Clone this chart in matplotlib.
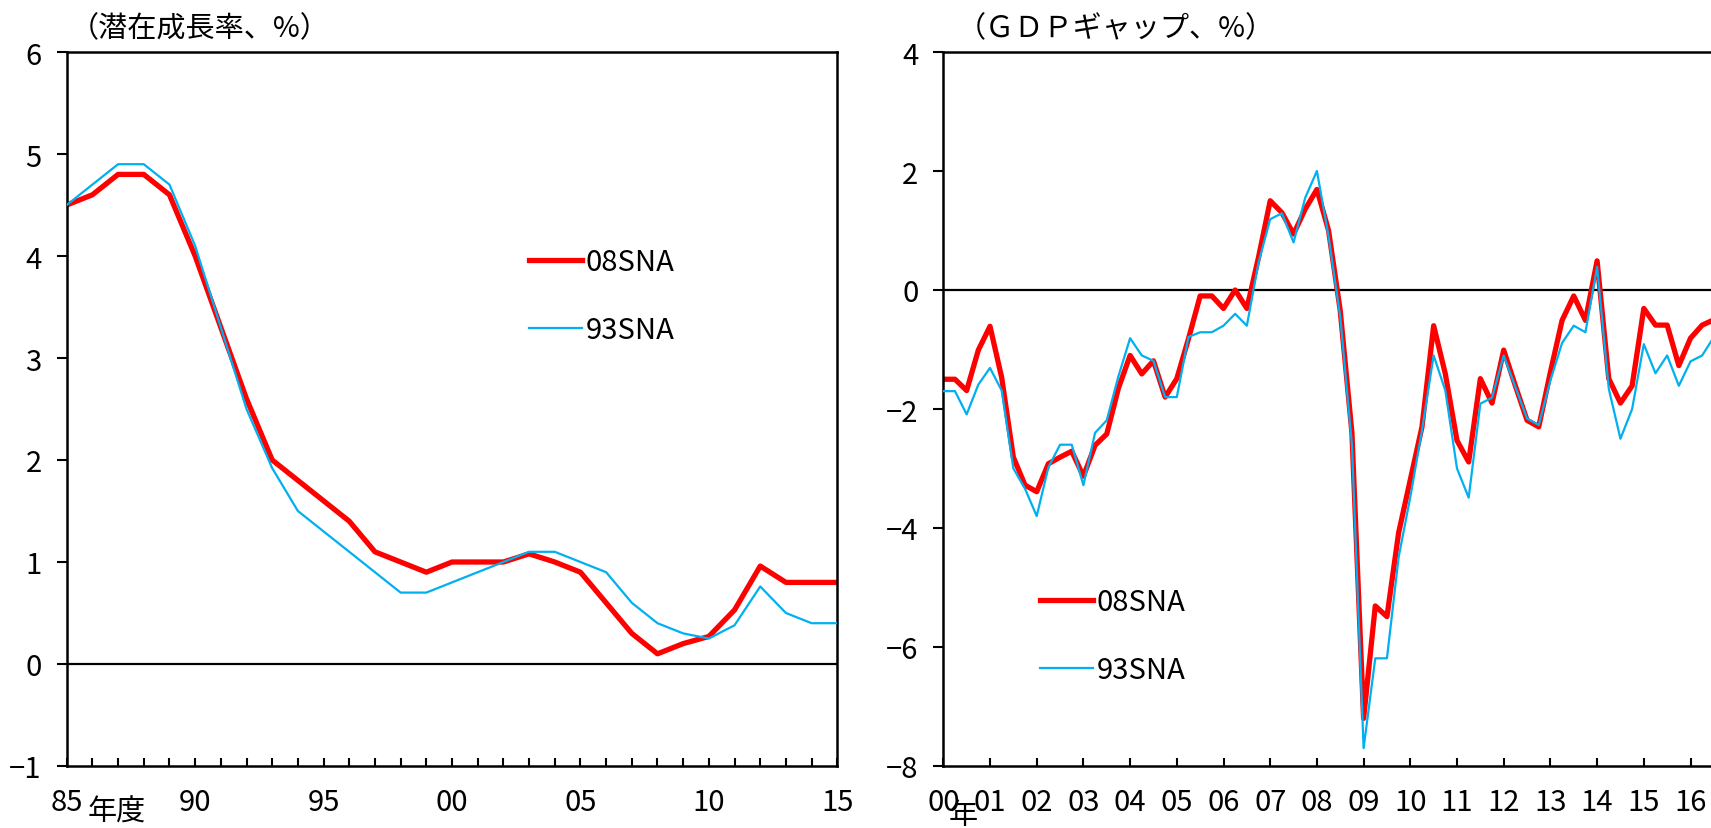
import numpy as np
import matplotlib
matplotlib.use("Agg")
import matplotlib.pyplot as plt
from matplotlib.ticker import MultipleLocator

plt.rcParams['font.family'] = ['Noto Sans CJK JP', 'DejaVu Sans']

# 潜在成長率（年度）
fy = np.arange(1985, 2016)
pot_08sna = [4.5, 4.6, 4.8, 4.8, 4.6, 4.0, 3.3, 2.6, 2.0, 1.8, 1.6, 1.4, 1.1, 1.0, 0.9,
             1.0, 1.0, 1.0, 1.08, 1.0, 0.9, 0.6, 0.3, 0.1, 0.2, 0.27, 0.53, 0.96, 0.8, 0.8, 0.8]
pot_93sna = [4.5, 4.7, 4.9, 4.9, 4.7, 4.1, 3.3, 2.5, 1.92, 1.5, 1.3, 1.1, 0.9, 0.7, 0.7,
             0.8, 0.9, 1.0, 1.1, 1.1, 1.0, 0.9, 0.6, 0.4, 0.3, 0.25, 0.38, 0.76, 0.5, 0.4, 0.4]

# GDPギャップ（四半期、2000Q1～）
gap_08sna = [-1.50, -1.50, -1.69, -1.01, -0.61, -1.47, -2.81, -3.28, -3.39, -2.92, -2.81, -2.71,
             -3.13, -2.61, -2.42, -1.65, -1.10, -1.41, -1.19, -1.80, -1.49, -0.82, -0.10, -0.10,
             -0.31, 0.00, -0.31, 0.55, 1.50, 1.30, 0.94, 1.36, 1.69, 1.00, -0.35, -2.40,
             -7.20, -5.31, -5.49, -4.08, -3.19, -2.30, -0.60, -1.41, -2.53, -2.89, -1.49, -1.90,
             -1.01, -1.61, -2.19, -2.30, -1.38, -0.51, -0.10, -0.51, 0.49, -1.49, -1.90, -1.61,
             -0.31, -0.59, -0.59, -1.27, -0.81, -0.59, -0.50]
gap_93sna = [-1.70, -1.70, -2.09, -1.59, -1.31, -1.69, -3.00, -3.34, -3.80, -2.98, -2.60, -2.60,
             -3.28, -2.40, -2.19, -1.45, -0.81, -1.10, -1.19, -1.80, -1.80, -0.79, -0.71, -0.71,
             -0.60, -0.40, -0.60, 0.46, 1.19, 1.29, 0.80, 1.55, 2.00, 0.90, -0.45, -2.60,
             -7.70, -6.19, -6.19, -4.49, -3.48, -2.36, -1.10, -1.69, -3.00, -3.49, -1.91, -1.81,
             -1.10, -1.63, -2.16, -2.27, -1.52, -0.89, -0.60, -0.71, 0.39, -1.66, -2.50, -2.00,
             -0.91, -1.40, -1.10, -1.61, -1.20, -1.10, -0.79]
qx = 2000 + np.arange(len(gap_08sna)) / 4

left_ticks = [1985, 1990, 1995, 2000, 2005, 2010, 2015]
left_labels = ['85', '90', '95', '00', '05', '10', '15']
right_ticks = list(range(2000, 2017))
right_labels = ['%02d' % (y % 100) for y in right_ticks]

RED = '#FF0000'
BLUE = '#00B0F0'
FS = 21
FS_TITLE = 21

W, H = 1711, 829
fig = plt.figure(figsize=(W / 100, H / 100), dpi=100)

def px(x0, y0, x1, y1):
    return [x0 / W, 1 - y1 / H, (x1 - x0) / W, (y1 - y0) / H]

ax1 = fig.add_axes(px(66.7, 53, 837.3, 767))
ax2 = fig.add_axes(px(943.3, 53, 943.3 + 17 * 46.7, 767))

for ax in (ax1, ax2):
    for s in ax.spines.values():
        s.set_linewidth(1.8)
    ax.axhline(0, color='black', lw=1.6, zorder=1)
    ax.tick_params(axis='y', direction='out', length=7, width=1.5, labelsize=FS, pad=11)
    ax.tick_params(axis='x', which='both', direction='in', length=6, width=1.5,
                   labelsize=FS, pad=15)

# 左：潜在成長率
ax1.plot(fy, pot_93sna, color=BLUE, lw=1.6, label='93SNA', zorder=3)
ax1.plot(fy, pot_08sna, color=RED, lw=3.8, label='08SNA', zorder=2)
ax1.set_xlim(1985, 2015)
ax1.set_ylim(-1, 6)
ax1.set_xticks(left_ticks)
ax1.set_xticklabels(left_labels)
ax1.xaxis.set_minor_locator(MultipleLocator(1))
ax1.set_yticks(range(-1, 7))

# 右：GDPギャップ
ax2.plot(qx, gap_93sna, color=BLUE, lw=1.6, label='93SNA', zorder=3)
ax2.plot(qx, gap_08sna, color=RED, lw=3.8, label='08SNA', zorder=2)
ax2.set_xlim(2000, 2017)
ax2.set_ylim(-8, 4)
ax2.set_xticks(right_ticks)
ax2.set_xticklabels(right_labels)
ax2.set_yticks(range(-8, 5, 2))

for ax, (lx, ly) in ((ax1, (529, 248)), (ax2, (1040, 588))):
    h, l = ax.get_legend_handles_labels()
    ax.legend(h[::-1], l[::-1], loc='upper left', bbox_to_anchor=(lx / W, 1 - ly / H),
              bbox_transform=fig.transFigure, frameon=False, fontsize=FS,
              handlelength=1.8, handletextpad=0.15, labelspacing=1.3,
              borderpad=0, borderaxespad=0)

fig.text(70 / W, 1 - 29 / H, '（潜在成長率、%）', fontsize=FS_TITLE, ha='left', va='center')
fig.text(957 / W, 1 - 29 / H, '（ＧＤＰギャップ、%）', fontsize=FS_TITLE, ha='left', va='center')
fig.text(117 / W, 1 - 813 / H, '年度', fontsize=FS, ha='center', va='center')
fig.text(963 / W, 1 - 816 / H, '年', fontsize=FS, ha='center', va='center')

fig.savefig('out.png', dpi=100)
